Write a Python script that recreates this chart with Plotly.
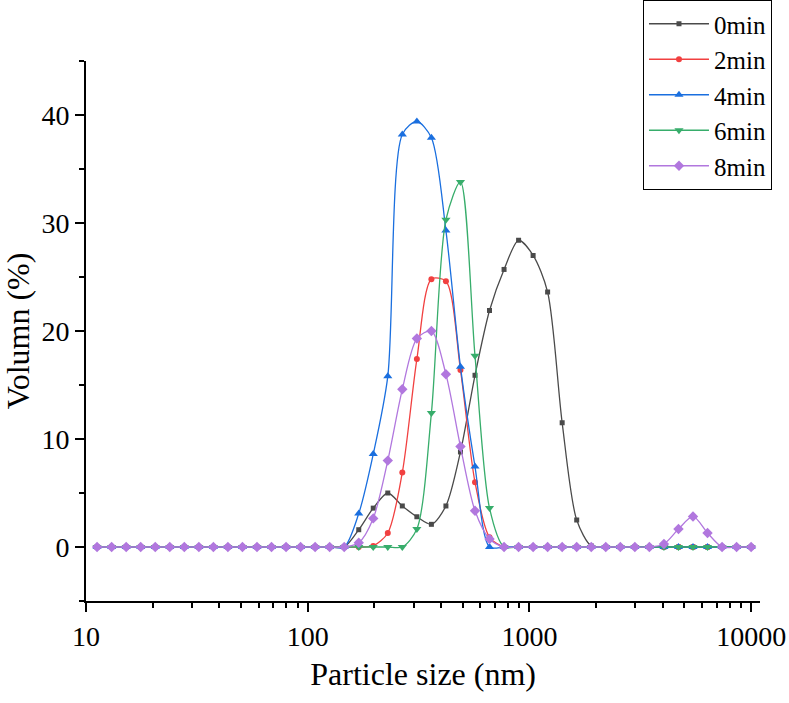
import plotly.graph_objects as go

# particle size bins (nm)
sizes = [
    11.22, 13.05, 15.18, 17.65, 20.53, 23.87, 27.76, 32.29, 37.55, 43.66,
    50.78, 59.05, 68.67, 79.86, 92.87, 108.0, 125.6, 146.1, 169.9, 197.5,
    229.7, 267.1, 310.7, 361.3, 420.1, 488.6, 568.2, 660.7, 768.4, 893.6,
    1039, 1208, 1405, 1634, 1901, 2210, 2571, 2989, 3476, 4043,
    4702, 5468, 6358, 7394, 8599, 10000,
]

vol_0min = [
    0, 0, 0, 0, 0, 0, 0, 0, 0, 0,
    0, 0, 0, 0, 0, 0, 0, 0, 1.6, 3.6,
    5.0, 3.8, 2.8, 2.1, 3.8, 8.8, 15.9, 21.9, 25.7, 28.4,
    27.0, 23.6, 11.5, 2.5, 0.1, 0, 0, 0, 0, 0,
    0, 0, 0, 0, 0, 0,
]
vol_2min = [
    0, 0, 0, 0, 0, 0, 0, 0, 0, 0,
    0, 0, 0, 0, 0, 0, 0, 0, 0, 0.1,
    1.3, 6.9, 17.4, 24.8, 24.6, 16.4, 6.0, 0.9, 0, 0,
    0, 0, 0, 0, 0, 0, 0, 0, 0, 0,
    0, 0, 0, 0, 0, 0,
]
vol_4min = [
    0, 0, 0, 0, 0, 0, 0, 0, 0, 0,
    0, 0, 0, 0, 0, 0, 0, 0, 3.1, 8.6,
    15.8, 38.2, 39.4, 37.9, 29.3, 16.7, 7.45, 0, 0, 0,
    0, 0, 0, 0, 0, 0, 0, 0, 0, 0,
    0, 0, 0, 0, 0, 0,
]
vol_6min = [
    0, 0, 0, 0, 0, 0, 0, 0, 0, 0,
    0, 0, 0, 0, 0, 0, 0, 0, 0, 0,
    0, 0, 1.66, 12.4, 30.3, 33.8, 17.7, 3.6, 0, 0,
    0, 0, 0, 0, 0, 0, 0, 0, 0, 0,
    0, 0, 0, 0, 0, 0,
]
vol_8min = [
    0, 0, 0, 0, 0, 0, 0, 0, 0, 0,
    0, 0, 0, 0, 0, 0, 0, 0, 0.4, 2.65,
    8.0, 14.6, 19.3, 20.0, 16.0, 9.3, 3.35, 0.74, 0, 0,
    0, 0, 0, 0, 0, 0, 0, 0, 0, 0.28,
    1.66, 2.83, 1.3, 0, 0, 0,
]

series = [
    ("0min", vol_0min, "#4a4a4a", "square", 5),
    ("2min", vol_2min, "#F14040", "circle", 6),
    ("4min", vol_4min, "#1A6FDF", "triangle-up", 8),
    ("6min", vol_6min, "#37AD6B", "triangle-down", 8),
    ("8min", vol_8min, "#B177DE", "diamond", 8),
]

FONT = "Liberation Serif"

fig = go.Figure()
for name, vals, color, symbol, msize in series:
    fig.add_trace(
        go.Scatter(
            x=sizes,
            y=vals,
            name=name,
            mode="lines+markers",
            line={"color": color, "width": 1.3, "shape": "spline", "smoothing": 0.8},
            marker={"symbol": symbol, "size": msize, "color": color},
        )
    )

# plot box: x 86..760, y 61..601 px; top/right margins are zero so the
# legend stays inside the paper and does not push the layout
fig.update_layout(
    width=789,
    height=703,
    margin={"l": 86, "r": 0, "t": 0, "b": 102},
    paper_bgcolor="white",
    plot_bgcolor="white",
    font={"family": FONT, "size": 28, "color": "black"},
    legend={
        "x": 0.7923,
        "y": 1,
        "xanchor": "left",
        "yanchor": "top",
        "bgcolor": "white",
        "bordercolor": "black",
        "borderwidth": 1,
        "font": {"family": FONT, "size": 25, "color": "black"},
        "itemwidth": 60,
    },
)
fig.update_xaxes(
    type="log",
    domain=[0, 0.9592],
    range=[1, 4.0414],
    dtick=1,
    tickformat="d",
    automargin=False,
    ticklabeloverflow="allow",
    showgrid=False,
    zeroline=False,
    showline=True,
    linecolor="black",
    linewidth=2,
    ticks="outside",
    ticklen=9,
    tickwidth=2,
    tickcolor="black",
    minor={"ticks": "outside", "ticklen": 5, "tickwidth": 1.5, "tickcolor": "black", "showgrid": False},
    title={"text": "Particle size (nm)", "font": {"family": FONT, "size": 32}, "standoff": 12},
)
fig.update_yaxes(
    domain=[0, 0.8985],
    range=[-5, 45],
    dtick=10,
    automargin=False,
    showgrid=False,
    zeroline=False,
    showline=True,
    linecolor="black",
    linewidth=2,
    ticks="outside",
    ticklen=9,
    tickwidth=2,
    tickcolor="black",
    minor={"ticks": "outside", "ticklen": 5, "tickwidth": 1.5, "tickcolor": "black", "dtick": 5, "showgrid": False},
    title={"text": "Volumn (%)", "font": {"family": FONT, "size": 32}, "standoff": 8},
)

# drop the default 8 px page margin so the figure fills the window exactly
fig.write_html(
    "out.html",
    config={"displayModeBar": False},
    post_script="document.body.style.margin='0';document.body.style.overflow='hidden';",
)
